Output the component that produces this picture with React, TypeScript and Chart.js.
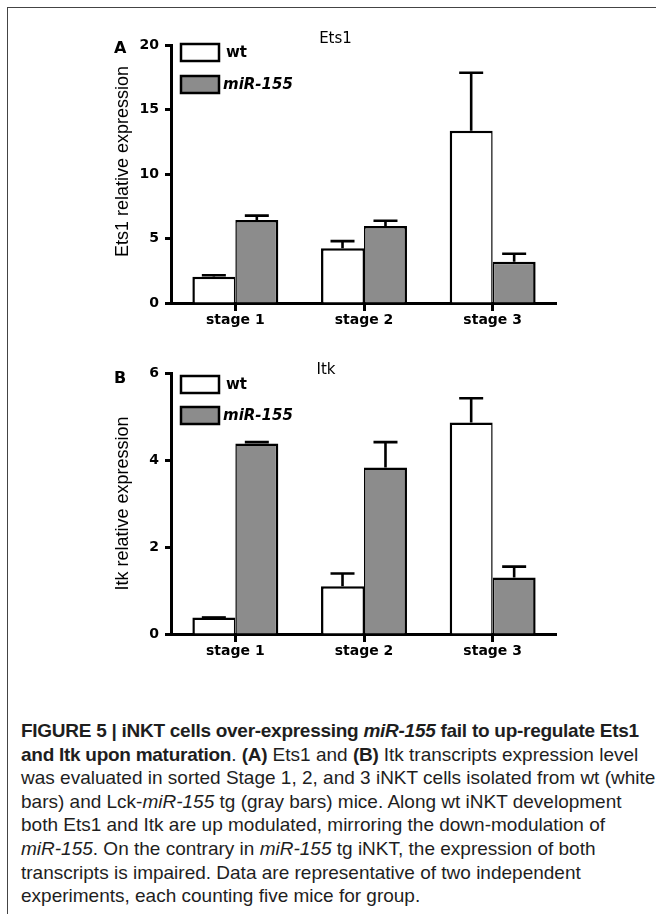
import React, { useEffect, useRef } from "react";
import { Chart, registerables } from "chart.js";

Chart.register(...registerables);

// ---------- data ----------
const stages = ["stage 1", "stage 2", "stage 3"];
const seriesLabels = ["wt", "miR-155"];

const ets1Wt = [2.03, 4.24, 13.36];
const ets1WtErrTop = [2.15, 4.8, 17.85];
const ets1Mir = [6.43, 5.97, 3.2];
const ets1MirErrTop = [6.77, 6.38, 3.82];
const ets1Ticks = [0, 5, 10, 15, 20];

const itkWt = [0.38, 1.1, 4.86];
const itkWtErrTop = [0.38, 1.39, 5.42];
const itkMir = [4.38, 3.83, 1.3];
const itkMirErrTop = [4.41, 4.41, 1.55];
const itkTicks = [0, 2, 4, 6];

const WT_FILL = "#ffffff";
const MIR_FILL = "#8c8c8c";
const TICK_FONT = { family: "'DejaVu Sans', sans-serif", size: 14, weight: "bold" as const };

// ---------- plugins ----------
const errorBarPlugin = {
  id: "errorBars",
  afterDatasetsDraw(chart: any, _args: any, opts: any) {
    const { ctx } = chart;
    const yScale = chart.scales.y;
    chart.data.datasets.forEach((_ds: any, i: number) => {
      const meta = chart.getDatasetMeta(i);
      const tops: number[] = opts.tops[i];
      meta.data.forEach((bar: any, j: number) => {
        const yTop = yScale.getPixelForValue(tops[j]);
        const yBar = bar.y;
        ctx.save();
        ctx.strokeStyle = "#000";
        ctx.lineWidth = 2.6;
        ctx.beginPath();
        ctx.moveTo(bar.x, yBar);
        ctx.lineTo(bar.x, yTop);
        ctx.moveTo(bar.x - 12, yTop);
        ctx.lineTo(bar.x + 12, yTop);
        ctx.stroke();
        ctx.restore();
      });
    });
  },
};

const boxLegendPlugin = {
  id: "boxLegend",
  afterDraw(chart: any, _args: any, opts: any) {
    const { ctx, chartArea } = chart;
    chart.data.datasets.forEach((ds: any, i: number) => {
      const x = chartArea.left + opts.dx;
      const y = chartArea.top + opts.dy + i * opts.step;
      const w = 38;
      const h = 17;
      ctx.save();
      ctx.fillStyle = ds.backgroundColor;
      ctx.fillRect(x, y, w, h);
      ctx.lineWidth = 2.5;
      ctx.strokeStyle = "#000";
      ctx.strokeRect(x, y, w, h);
      ctx.fillStyle = "#000";
      ctx.textBaseline = "middle";
      ctx.font = (i === 1 ? "italic " : "") + "bold 15px 'DejaVu Sans', sans-serif";
      ctx.fillText(ds.label, x + w + (i === 1 ? 4 : 7), y + h / 2 + 1);
      ctx.restore();
    });
  },
};

type PanelProps = {
  title: string;
  yTitle: string;
  wt: number[];
  wtTop: number[];
  mir: number[];
  mirTop: number[];
  ticks: number[];
  padLeft: number;
  yTitlePad: number;
  titlePadTop: number;
  titlePadBottom: number;
  legendDy: number;
  legendStep: number;
  width: number;
  height: number;
  top: number;
};

function Panel(p: PanelProps) {
  const ref = useRef<HTMLCanvasElement | null>(null);
  useEffect(() => {
    if (!ref.current) return;
    const chart = new Chart(ref.current, {
      type: "bar",
      data: {
        labels: stages,
        datasets: [
          {
            label: seriesLabels[0],
            data: p.wt,
            backgroundColor: WT_FILL,
            borderColor: "#000",
            borderWidth: { top: 2.5, left: 2.5, right: 1.5, bottom: 0 },
            borderSkipped: false,
            barPercentage: 1,
            categoryPercentage: 0.668,
          },
          {
            label: seriesLabels[1],
            data: p.mir,
            backgroundColor: MIR_FILL,
            borderColor: "#000",
            borderWidth: { top: 2.5, left: 1.5, right: 2.5, bottom: 0 },
            borderSkipped: false,
            barPercentage: 1,
            categoryPercentage: 0.668,
          },
        ],
      },
      options: {
        responsive: false,
        animation: false,
        events: [],
        layout: { padding: { left: p.padLeft, right: 0, top: 0, bottom: 0 } },
        plugins: {
          legend: { display: false },
          tooltip: { enabled: false },
          title: {
            display: true,
            text: p.title,
            color: "#000",
            font: { family: "'DejaVu Sans', sans-serif", size: 15, weight: "normal", lineHeight: 1 },
            padding: { top: p.titlePadTop, bottom: p.titlePadBottom },
          },
          errorBars: { tops: [p.wtTop, p.mirTop] },
          boxLegend: { dx: 10, dy: p.legendDy, step: p.legendStep },
        } as any,
        scales: {
          x: {
            type: "category",
            offset: true,
            grid: {
              display: true,
              offset: false,
              drawOnChartArea: false,
              drawTicks: true,
              tickLength: 8,
              tickWidth: 3,
              tickColor: "#000",
            },
            border: { display: true, width: 3, color: "#000" },
            ticks: { color: "#000", font: TICK_FONT, padding: 1, maxRotation: 0 },
            afterFit: (s: any) => {
              s.height = 27;
            },
          },
          y: {
            min: p.ticks[0],
            max: p.ticks[p.ticks.length - 1],
            ticks: {
              stepSize: p.ticks[1] - p.ticks[0],
              color: "#000",
              font: TICK_FONT,
              padding: 6,
            },
            grid: {
              display: true,
              drawOnChartArea: false,
              drawTicks: true,
              tickLength: 6,
              tickWidth: 3,
              tickColor: "#000",
            },
            border: { display: true, width: 3, color: "#000" },
            title: {
              display: true,
              text: p.yTitle,
              color: "#000",
              font: { family: "'Liberation Sans', Arial, sans-serif", size: 18, weight: "normal", lineHeight: 1 },
              padding: { top: p.yTitlePad, bottom: 0 },
            },
            afterFit: (s: any) => {
              s.width = 171 - p.padLeft;
            },
          },
        } as any,
      },
      plugins: [errorBarPlugin, boxLegendPlugin],
    });
    return () => chart.destroy();
  }, []);
  return (
    <canvas
      ref={ref}
      width={p.width}
      height={p.height}
      style={{ position: "absolute", left: 0, top: p.top, width: p.width, height: p.height }}
    />
  );
}

const captionLineStyle: React.CSSProperties = { whiteSpace: "nowrap", height: 23.6, lineHeight: "23.6px" };
const boldStyle: React.CSSProperties = { fontWeight: "bold", letterSpacing: "-0.27px" };

export default function App() {
  return (
    <div
      style={{
        position: "absolute",
        left: 0,
        top: 0,
        width: 656,
        height: 914,
        overflow: "hidden",
        background: "#fff",
        fontFamily: "'Liberation Sans', Arial, sans-serif",
      }}
    >
      <div
        style={{
          position: "absolute",
          left: 7,
          top: 7,
          width: 649,
          height: 907,
          borderLeft: "1.5px solid #444",
          borderTop: "1.5px solid #444",
          boxSizing: "border-box",
        }}
      />
      <Panel
        title="Ets1"
        yTitle={"     Ets1 relative expression"}
        wt={ets1Wt}
        wtTop={ets1WtErrTop}
        mir={ets1Mir}
        mirTop={ets1MirErrTop}
        ticks={ets1Ticks}
        padLeft={114}
        yTitlePad={0}
        titlePadTop={31.5}
        titlePadBottom={-1.5}
        legendDy={-1}
        legendStep={32}
        width={557}
        height={330}
        top={0}
      />
      <Panel
        title="Itk"
        yTitle="Itk relative expression"
        wt={itkWt}
        wtTop={itkWtErrTop}
        mir={itkMir}
        mirTop={itkMirErrTop}
        ticks={itkTicks}
        padLeft={95}
        yTitlePad={19}
        titlePadTop={32.5}
        titlePadBottom={-4.5}
        legendDy={3}
        legendStep={31}
        width={557}
        height={331}
        top={330}
      />
      <div style={{ position: "absolute", left: 114, top: 40, font: "bold 16px/16px 'DejaVu Sans', sans-serif" }}>A</div>
      <div style={{ position: "absolute", left: 114, top: 370, font: "bold 16px/16px 'DejaVu Sans', sans-serif" }}>B</div>
      <div
        style={{
          position: "absolute",
          left: 21,
          top: 719,
          fontFamily: "'Liberation Sans', Arial, sans-serif",
          fontSize: 19,
          color: "#1e1e1e",
        }}
      >
        <div style={captionLineStyle}>
          <span style={boldStyle}>
            FIGURE 5 | iNKT cells over-expressing <i>miR-155</i> fail to up-regulate Ets1
          </span>
        </div>
        <div style={captionLineStyle}>
          <span style={boldStyle}>and Itk upon maturation</span>. <span style={boldStyle}>(A)</span> Ets1 and{" "}
          <span style={boldStyle}>(B)</span> Itk transcripts expression level
        </div>
        <div style={captionLineStyle}>was evaluated in sorted Stage 1, 2, and 3 iNKT cells isolated from wt (white</div>
        <div style={captionLineStyle}>
          bars) and Lck-<i>miR-155</i> tg (gray bars) mice. Along wt iNKT development
        </div>
        <div style={captionLineStyle}>both Ets1 and Itk are up modulated, mirroring the down-modulation of</div>
        <div style={captionLineStyle}>
          <i>miR-155</i>. On the contrary in <i>miR-155</i> tg iNKT, the expression of both
        </div>
        <div style={captionLineStyle}>transcripts is impaired. Data are representative of two independent</div>
        <div style={captionLineStyle}>experiments, each counting five mice for group.</div>
      </div>
    </div>
  );
}
